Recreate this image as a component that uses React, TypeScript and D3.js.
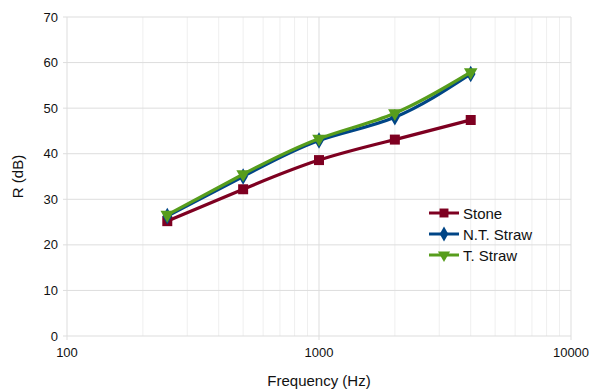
import React, { useRef, useEffect } from "react";
import * as d3 from "d3";

const frequencies = [250, 500, 1000, 2000, 4000];
const stone = [25.2, 32.2, 38.6, 43.1, 47.4];
const ntStraw = [26.3, 35.0, 42.9, 48.0, 57.5];
const tStraw = [26.6, 35.5, 43.3, 48.9, 57.9];

const seriesNames = ["Stone", "N.T. Straw", "T. Straw"];
const seriesColors = ["#7e0021", "#004586", "#579d1c"];
const yTicks = [0, 10, 20, 30, 40, 50, 60, 70];
const xTicks = [100, 1000, 10000];

const App = () => {
  const svgRef = useRef(null);

  useEffect(() => {
    const svg = d3.select(svgRef.current);
    svg.selectAll("*").remove();

    const left = 67, right = 571, top = 17, bottom = 336;
    const font = "Liberation Sans, Arial, sans-serif";

    const x = d3.scaleLog().domain([100, 10000]).range([left, right]);
    const y = d3.scaleLinear().domain([0, 70]).range([bottom, top]);

    // minor vertical grid
    const minor = [];
    for (const dec of [100, 1000]) for (let k = 2; k <= 9; k++) minor.push(dec * k);
    svg.append("g").selectAll("line").data(minor).join("line")
      .attr("x1", d => x(d)).attr("x2", d => x(d))
      .attr("y1", top).attr("y2", bottom)
      .attr("stroke", "#efefef").attr("stroke-width", 1);

    // major grid
    svg.append("g").selectAll("line").data(xTicks).join("line")
      .attr("x1", d => x(d)).attr("x2", d => x(d))
      .attr("y1", top).attr("y2", bottom + 4)
      .attr("stroke", "#dddddd").attr("stroke-width", 1);
    svg.append("g").selectAll("line").data(yTicks).join("line")
      .attr("x1", left - 4).attr("x2", right)
      .attr("y1", d => y(d)).attr("y2", d => y(d))
      .attr("stroke", "#dddddd").attr("stroke-width", 1);

    // tick labels
    svg.append("g").selectAll("text").data(yTicks).join("text")
      .attr("x", left - 9).attr("y", d => y(d) + 4.5)
      .attr("text-anchor", "end").attr("font-family", font).attr("font-size", 13)
      .attr("fill", "#111").text(d => d);
    svg.append("g").selectAll("text").data(xTicks).join("text")
      .attr("x", d => x(d)).attr("y", bottom + 21)
      .attr("text-anchor", "middle").attr("font-family", font).attr("font-size", 13)
      .attr("fill", "#111").text(d => d);

    // axis titles
    svg.append("text")
      .attr("transform", `translate(23,${(top + bottom) / 2}) rotate(-90)`)
      .attr("text-anchor", "middle").attr("font-family", font).attr("font-size", 15)
      .attr("fill", "#111").text("R (dB)");
    svg.append("text")
      .attr("x", (left + right) / 2).attr("y", 386)
      .attr("text-anchor", "middle").attr("font-family", font).attr("font-size", 15)
      .attr("fill", "#111").text("Frequency (Hz)");

    const allSeries = [stone, ntStraw, tStraw];
    const line = d3.line()
      .x((d, i) => x(frequencies[i]))
      .y(d => y(d))
      .curve(d3.curveNatural);

    const symbols = [d3.symbolSquare, d3.symbolDiamond, d3.symbolTriangle];
    const sizes = [100, 80, 80];
    const rot = [0, 0, 180];

    allSeries.forEach((vals, s) => {
      svg.append("path").datum(vals)
        .attr("fill", "none").attr("stroke", seriesColors[s])
        .attr("stroke-width", 3.2).attr("stroke-linejoin", "round")
        .attr("d", line);
      svg.append("g").selectAll("path").data(vals).join("path")
        .attr("transform", (d, i) => `translate(${x(frequencies[i])},${y(d)}) rotate(${rot[s]})`)
        .attr("d", d3.symbol().type(symbols[s]).size(sizes[s]))
        .attr("fill", seriesColors[s]);
    });

    // legend
    const lg = svg.append("g");
    seriesNames.forEach((name, s) => {
      const ly = 213 + s * 21;
      lg.append("line").attr("x1", 429).attr("x2", 459).attr("y1", ly).attr("y2", ly)
        .attr("stroke", seriesColors[s]).attr("stroke-width", 3);
      lg.append("path")
        .attr("transform", `translate(444,${ly}) rotate(${rot[s]})`)
        .attr("d", d3.symbol().type(symbols[s]).size(sizes[s] * 0.8))
        .attr("fill", seriesColors[s]);
      lg.append("text").attr("x", 463).attr("y", ly + 5.5)
        .attr("font-family", font).attr("font-size", 15).attr("fill", "#111")
        .text(name);
    });
  }, []);

  return (
    <svg ref={svgRef} width={592} height={389}
      style={{ position: "absolute", left: 0, top: 0, background: "#fff" }} />
  );
};

export default App;
